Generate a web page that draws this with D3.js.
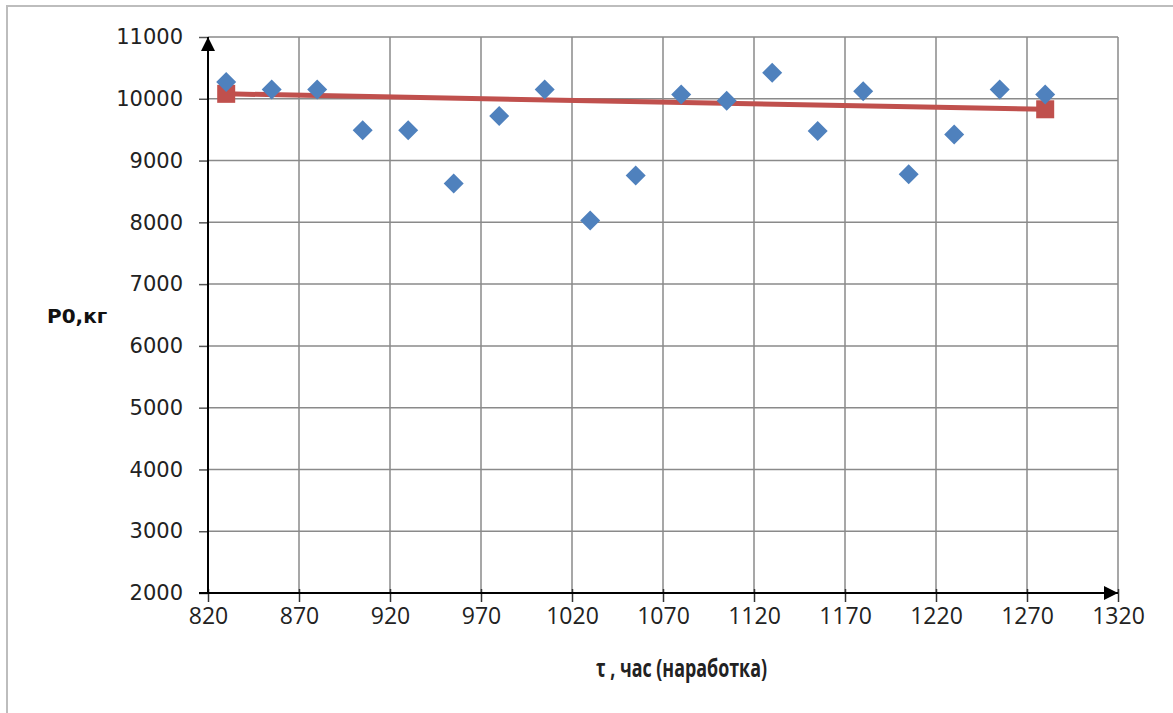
<!DOCTYPE html>
<html>
<head>
<meta charset="utf-8">
<script src="https://cdn.jsdelivr.net/npm/d3@7"></script>
<style>
  html, body { margin: 0; padding: 0; background: #fff; }
  svg { display: block; }
</style>
</head>
<body>
<svg id="chart" width="1173" height="713"></svg>
<script>
// Operating time, hours
const hours = [830, 855, 880, 905, 930, 955, 980, 1005, 1030, 1055,
               1080, 1105, 1130, 1155, 1180, 1205, 1230, 1255, 1280];
// Measured load P0, kg
const loadKg = [10270, 10150, 10150, 9490, 9490, 8630, 9720, 10150, 8030, 8760,
                10070, 9970, 10420, 9480, 10120, 8780, 9420, 10150, 10070];
// Trend line end points
const trendHours = [830, 1280];
const trendKg = [10080, 9830];
// Axis ticks
const xTicks = [820, 870, 920, 970, 1020, 1070, 1120, 1170, 1220, 1270, 1320];
const yTicks = [2000, 3000, 4000, 5000, 6000, 7000, 8000, 9000, 10000, 11000];

const svg = d3.select("#chart");
const plotLeft = 208, plotRight = 1118, plotTop = 37, plotBottom = 593;

const x = d3.scaleLinear().domain([820, 1320]).range([plotLeft, plotRight]);
const y = d3.scaleLinear().domain([2000, 11000]).range([plotBottom, plotTop]);

// outer frame
svg.append("path")
  .attr("d", "M7,713 L7,6 L1173,6")
  .attr("fill", "none").attr("stroke", "#bdbdbd").attr("stroke-width", 2);

// gridlines
const grid = svg.append("g").attr("stroke", "#8a8a8a").attr("stroke-width", 1.5);
grid.selectAll(".hg").data(yTicks).join("line")
  .attr("x1", plotLeft).attr("x2", plotRight)
  .attr("y1", d => y(d)).attr("y2", d => y(d));
grid.selectAll(".vg").data(xTicks).join("line")
  .attr("x1", d => x(d)).attr("x2", d => x(d))
  .attr("y1", plotTop).attr("y2", plotBottom);

// axes (ticks + labels) drawn via d3 axis generators
const yAxis = d3.axisLeft(y).tickValues(yTicks).tickSize(9).tickPadding(16)
  .tickFormat(d3.format("d"));
const gy = svg.append("g").attr("transform", `translate(${plotLeft},0)`).call(yAxis);
gy.select(".domain").remove();
gy.selectAll(".tick line").attr("stroke", "#555").attr("stroke-width", 1.5);
gy.selectAll(".tick text")
  .attr("font-family", "'DejaVu Sans', Verdana, sans-serif")
  .attr("font-size", 21).attr("fill", "#222");

const xAxis = d3.axisBottom(x).tickValues(xTicks).tickSize(9).tickPadding(14)
  .tickFormat(d3.format("d"));
const gx = svg.append("g").attr("transform", `translate(0,${plotBottom - 4})`).call(xAxis);
gx.select(".domain").remove();
gx.selectAll(".tick line").attr("stroke", "#333").attr("stroke-width", 1.5)
  .attr("y1", 0).attr("y2", 13);
gx.selectAll(".tick text")
  .attr("font-family", "'Open Sans', 'Noto Sans', sans-serif")
  .attr("font-size", 23).attr("fill", "#222").attr("dy", "0.5em");

// arrowed axis lines
const defs = svg.append("defs");
defs.append("marker").attr("id", "arrow")
  .attr("viewBox", "0 0 10 10").attr("refX", 10).attr("refY", 5)
  .attr("markerWidth", 7).attr("markerHeight", 7).attr("markerUnits", "strokeWidth")
  .attr("orient", "auto")
  .append("path").attr("d", "M0,0 L10,5 L0,10 Z").attr("fill", "#000");

svg.append("line")
  .attr("x1", plotLeft).attr("y1", plotBottom).attr("x2", plotLeft).attr("y2", plotTop)
  .attr("stroke", "#000").attr("stroke-width", 2).attr("marker-end", "url(#arrow)");
svg.append("line")
  .attr("x1", plotLeft - 9).attr("y1", plotBottom).attr("x2", plotRight).attr("y2", plotBottom)
  .attr("stroke", "#000").attr("stroke-width", 2).attr("marker-end", "url(#arrow)");

// trend line with square end markers
const trend = trendHours.map((h, i) => ({ h, v: trendKg[i] }));
svg.append("path")
  .datum(trend)
  .attr("d", d3.line().x(d => x(d.h)).y(d => y(d.v)))
  .attr("fill", "none").attr("stroke", "#C0504D").attr("stroke-width", 5);
svg.selectAll(".tsq").data(trend).join("rect")
  .attr("x", d => x(d.h) - 9).attr("y", d => y(d.v) - 9)
  .attr("width", 18).attr("height", 18).attr("fill", "#C0504D");

// measured points as diamonds
const pts = hours.map((h, i) => ({ h, v: loadKg[i] }));
svg.selectAll(".pt").data(pts).join("path")
  .attr("transform", d => `translate(${x(d.h)},${y(d.v)})`)
  .attr("d", "M0,-10 L10,0 L0,10 L-10,0 Z")
  .attr("fill", "#4F81BD");

// axis titles
svg.append("text")
  .attr("x", 596).attr("y", 677)
  .attr("font-family", "'Open Sans', 'Noto Sans', sans-serif")
  .attr("font-weight", "bold").attr("font-size", 25).attr("fill", "#222")
  .attr("textLength", 171).attr("lengthAdjust", "spacingAndGlyphs")
  .text("τ , час (наработка)");
svg.append("text")
  .attr("x", 47).attr("y", 323)
  .attr("font-family", "'DejaVu Sans', Verdana, sans-serif")
  .attr("font-weight", "bold").attr("font-size", 20).attr("fill", "#111")
  .text("P0,кг");
</script>
</body>
</html>
